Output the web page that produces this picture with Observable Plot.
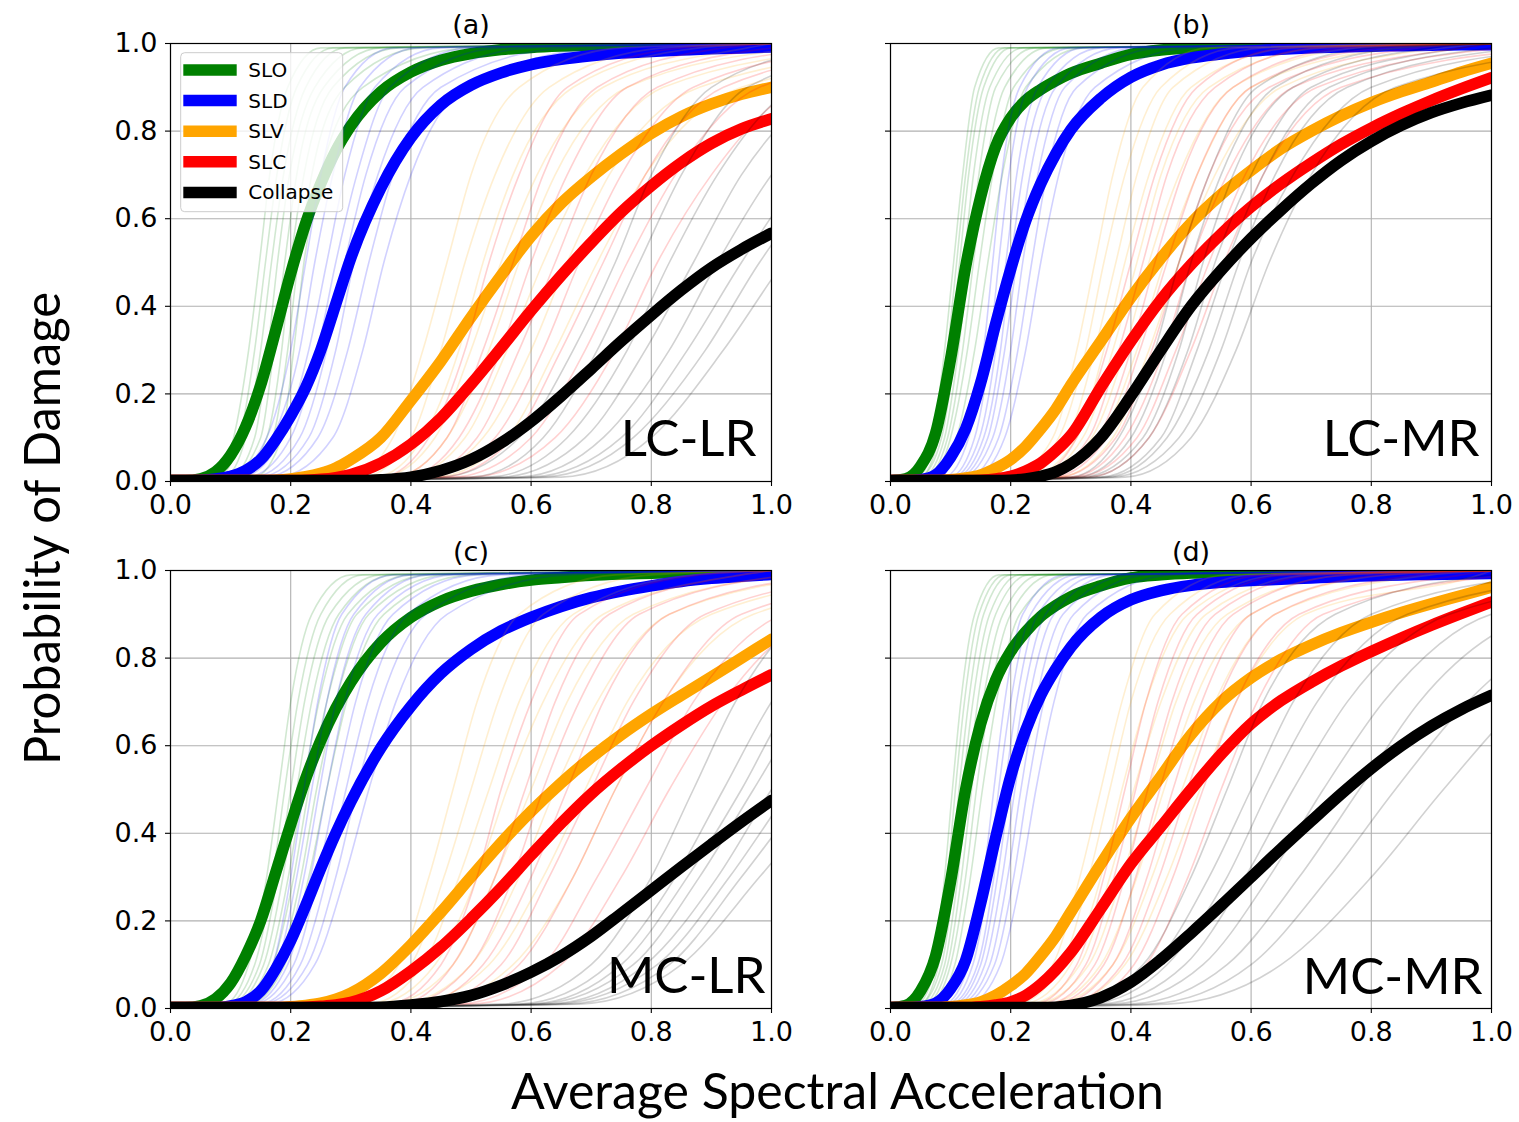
<!DOCTYPE html>
<html>
<head>
<meta charset="utf-8">
<script src="https://cdn.jsdelivr.net/npm/d3@7"></script>
<script src="https://cdn.jsdelivr.net/npm/@observablehq/plot@0.6"></script>
<style>
  html, body { margin: 0; padding: 0; background: #fff; }
  #fig { position: relative; width: 1519px; height: 1122px; overflow: hidden; background: #fff; }
  #fig svg { max-width: none; }
  .panel { position: absolute; }
  #overlay { position: absolute; left: 0; top: 0; pointer-events: none; }
</style>
</head>
<body>
<div id="fig"></div>
<script>
// ---------------- DATA ----------------
const states = ["SLO", "SLD", "SLV", "SLC", "Collapse"];
const stateColors = ["#008000", "#0000ff", "#ffa500", "#ff0000", "#000000"];
const panelTitles = ["(a)", "(b)", "(c)", "(d)"];
const typologies = ["LC-LR", "LC-MR", "MC-LR", "MC-MR"];
const xAxisLabel = "Average Spectral Acceleration";
const yAxisLabel = "Probability of Damage";
const xTicks = [0, 0.2, 0.4, 0.6, 0.8, 1.0];
const yTicks = [0, 0.2, 0.4, 0.6, 0.8, 1.0];

// x positions at which the thick (mean) curves were read
const xs = [0, 0.025, 0.05, 0.075, 0.1, 0.125, 0.15, 0.175, 0.2, 0.225, 0.25, 0.275, 0.3, 0.35, 0.4, 0.45, 0.5, 0.55, 0.6, 0.65, 0.7, 0.75, 0.8, 0.85, 0.9, 0.95, 1.0];

// (a) LC-LR thick curves
const a_SLO = [0.002, 0.002, 0.006, 0.022, 0.06, 0.125, 0.22, 0.345, 0.475, 0.59, 0.68, 0.755, 0.812, 0.89, 0.935, 0.962, 0.977, 0.986, 0.991, 0.994, 0.996, 0.997, 0.998, 0.998, 0.999, 0.999, 0.999];
const a_SLD = [0.002, 0.002, 0.003, 0.006, 0.012, 0.025, 0.05, 0.095, 0.15, 0.215, 0.3, 0.405, 0.51, 0.67, 0.785, 0.86, 0.905, 0.933, 0.952, 0.964, 0.972, 0.978, 0.982, 0.985, 0.988, 0.99, 0.992];
const a_SLV = [0.002, 0.002, 0.002, 0.002, 0.002, 0.002, 0.002, 0.003, 0.006, 0.011, 0.019, 0.031, 0.05, 0.1, 0.185, 0.275, 0.375, 0.47, 0.56, 0.635, 0.695, 0.748, 0.795, 0.833, 0.862, 0.884, 0.9];
const a_SLC = [0.002, 0.002, 0.002, 0.002, 0.002, 0.002, 0.002, 0.002, 0.002, 0.003, 0.005, 0.009, 0.016, 0.042, 0.085, 0.145, 0.222, 0.305, 0.39, 0.47, 0.545, 0.615, 0.675, 0.728, 0.772, 0.805, 0.828];
const a_COL = [0.002, 0.002, 0.002, 0.002, 0.002, 0.002, 0.002, 0.002, 0.002, 0.002, 0.002, 0.002, 0.002, 0.004, 0.01, 0.025, 0.05, 0.088, 0.137, 0.195, 0.257, 0.32, 0.38, 0.437, 0.488, 0.53, 0.567];

// (b) LC-MR thick curves
const b_SLO = [0.002, 0.006, 0.035, 0.11, 0.28, 0.49, 0.65, 0.765, 0.83, 0.87, 0.895, 0.915, 0.932, 0.955, 0.975, 0.985, 0.99, 0.993, 0.995, 0.996, 0.997, 0.998, 0.998, 0.999, 0.999, 0.999, 0.999];
const b_SLD = [0.002, 0.002, 0.004, 0.015, 0.055, 0.12, 0.225, 0.36, 0.485, 0.595, 0.68, 0.748, 0.803, 0.875, 0.923, 0.951, 0.967, 0.976, 0.983, 0.987, 0.99, 0.992, 0.994, 0.995, 0.996, 0.997, 0.997];
const b_SLV = [0.002, 0.002, 0.002, 0.002, 0.004, 0.008, 0.015, 0.03, 0.05, 0.08, 0.12, 0.165, 0.22, 0.32, 0.42, 0.51, 0.59, 0.655, 0.71, 0.76, 0.8, 0.835, 0.865, 0.89, 0.912, 0.935, 0.955];
const b_SLC = [0.002, 0.002, 0.002, 0.002, 0.002, 0.002, 0.003, 0.006, 0.012, 0.024, 0.042, 0.07, 0.105, 0.215, 0.32, 0.415, 0.495, 0.565, 0.627, 0.68, 0.727, 0.77, 0.807, 0.84, 0.87, 0.897, 0.922];
const b_COL = [0.002, 0.002, 0.002, 0.002, 0.002, 0.002, 0.002, 0.002, 0.003, 0.006, 0.012, 0.022, 0.04, 0.1, 0.195, 0.3, 0.4, 0.482, 0.555, 0.62, 0.68, 0.733, 0.777, 0.813, 0.842, 0.864, 0.882];

// (c) MC-LR thick curves
const c_SLO = [0.002, 0.002, 0.006, 0.022, 0.058, 0.12, 0.2, 0.31, 0.42, 0.525, 0.612, 0.685, 0.745, 0.835, 0.893, 0.93, 0.953, 0.968, 0.978, 0.984, 0.989, 0.992, 0.994, 0.996, 0.997, 0.998, 0.998];
const c_SLD = [0.002, 0.002, 0.002, 0.002, 0.006, 0.015, 0.04, 0.09, 0.155, 0.235, 0.32, 0.4, 0.472, 0.595, 0.69, 0.765, 0.82, 0.862, 0.893, 0.918, 0.938, 0.953, 0.965, 0.975, 0.982, 0.987, 0.991];
const c_SLV = [0.002, 0.002, 0.002, 0.002, 0.002, 0.002, 0.002, 0.002, 0.004, 0.007, 0.012, 0.021, 0.035, 0.08, 0.145, 0.22, 0.3, 0.378, 0.45, 0.515, 0.573, 0.625, 0.672, 0.715, 0.757, 0.8, 0.843];
const c_SLC = [0.002, 0.002, 0.002, 0.002, 0.002, 0.002, 0.002, 0.002, 0.002, 0.003, 0.005, 0.008, 0.014, 0.04, 0.085, 0.14, 0.205, 0.275, 0.35, 0.423, 0.49, 0.548, 0.6, 0.647, 0.69, 0.727, 0.762];
const c_COL = [0.002, 0.002, 0.002, 0.002, 0.002, 0.002, 0.002, 0.002, 0.002, 0.002, 0.002, 0.002, 0.002, 0.003, 0.008, 0.016, 0.03, 0.053, 0.083, 0.12, 0.165, 0.217, 0.27, 0.323, 0.375, 0.426, 0.475];

// (d) MC-MR thick curves
const d_SLO = [0.002, 0.007, 0.04, 0.12, 0.29, 0.5, 0.65, 0.75, 0.815, 0.86, 0.895, 0.92, 0.94, 0.965, 0.983, 0.99, 0.994, 0.996, 0.997, 0.998, 0.998, 0.999, 0.999, 0.999, 0.999, 0.999, 0.999];
const d_SLD = [0.002, 0.002, 0.004, 0.012, 0.045, 0.11, 0.24, 0.39, 0.53, 0.635, 0.715, 0.775, 0.825, 0.893, 0.933, 0.954, 0.966, 0.973, 0.977, 0.98, 0.983, 0.986, 0.988, 0.99, 0.991, 0.992, 0.993];
const d_SLV = [0.002, 0.002, 0.002, 0.002, 0.004, 0.008, 0.015, 0.03, 0.052, 0.08, 0.12, 0.165, 0.22, 0.33, 0.435, 0.53, 0.625, 0.7, 0.755, 0.797, 0.83, 0.858, 0.882, 0.904, 0.924, 0.943, 0.962];
const d_SLC = [0.002, 0.002, 0.002, 0.002, 0.002, 0.002, 0.004, 0.008, 0.015, 0.03, 0.055, 0.088, 0.128, 0.228, 0.33, 0.415, 0.5, 0.58, 0.65, 0.703, 0.745, 0.782, 0.815, 0.846, 0.875, 0.902, 0.928];
const d_COL = [0.002, 0.002, 0.002, 0.002, 0.002, 0.002, 0.002, 0.002, 0.002, 0.002, 0.002, 0.003, 0.007, 0.025, 0.06, 0.112, 0.172, 0.235, 0.3, 0.365, 0.428, 0.49, 0.548, 0.6, 0.645, 0.683, 0.715];

// Thin (individual building) curves: x at which each reaches these probabilities
const probLevels = [0.01, 0.1, 0.3, 0.5, 0.7, 0.9, 0.99];

const a_SLO_thin = [[0.075,0.105,0.13,0.148,0.165,0.195,0.25],[0.08,0.115,0.14,0.158,0.177,0.21,0.27],[0.09,0.125,0.15,0.168,0.188,0.225,0.29],[0.1,0.14,0.162,0.178,0.198,0.24,0.32],[0.1,0.15,0.172,0.19,0.21,0.255,0.35],[0.11,0.16,0.185,0.2,0.222,0.27,0.38],[0.12,0.17,0.195,0.212,0.235,0.29,0.42],[0.14,0.185,0.205,0.222,0.25,0.32,0.5]];
const a_SLD_thin = [[0.1,0.16,0.2,0.225,0.25,0.29,0.37],[0.11,0.17,0.215,0.24,0.27,0.315,0.41],[0.12,0.185,0.23,0.26,0.29,0.34,0.45],[0.13,0.2,0.245,0.275,0.31,0.365,0.5],[0.14,0.215,0.26,0.29,0.325,0.39,0.55],[0.15,0.23,0.275,0.305,0.345,0.42,0.6],[0.16,0.245,0.295,0.33,0.37,0.45,0.66],[0.18,0.27,0.32,0.355,0.4,0.49,0.72]];
const a_SLV_thin = [[0.3,0.37,0.42,0.46,0.5,0.58,0.75],[0.32,0.4,0.45,0.49,0.54,0.63,0.82],[0.34,0.42,0.48,0.52,0.57,0.67,0.88],[0.35,0.44,0.5,0.55,0.61,0.72,0.96],[0.37,0.46,0.53,0.58,0.64,0.76,1.05],[0.39,0.49,0.56,0.62,0.69,0.82,1.15],[0.41,0.52,0.6,0.66,0.73,0.88,1.25],[0.44,0.56,0.64,0.71,0.79,0.95,1.35]];
const a_SLC_thin = [[0.35,0.43,0.49,0.53,0.58,0.66,0.85],[0.37,0.46,0.52,0.57,0.62,0.71,0.92],[0.39,0.48,0.55,0.6,0.66,0.76,1.0],[0.41,0.51,0.58,0.64,0.7,0.81,1.08],[0.43,0.54,0.62,0.68,0.75,0.87,1.15],[0.45,0.57,0.65,0.72,0.79,0.92,1.22],[0.47,0.6,0.69,0.76,0.84,0.98,1.3],[0.5,0.64,0.74,0.81,0.9,1.05,1.4]];
const a_COL_thin = [[0.45,0.58,0.67,0.74,0.8,0.9,1.1],[0.5,0.62,0.71,0.78,0.85,0.96,1.2],[0.53,0.66,0.76,0.83,0.91,1.04,1.3],[0.55,0.69,0.79,0.87,0.95,1.1,1.4],[0.58,0.72,0.83,0.91,1.0,1.16,1.5],[0.6,0.75,0.86,0.95,1.05,1.22,1.6],[0.62,0.77,0.89,0.98,1.09,1.28,1.7],[0.65,0.8,0.92,1.02,1.14,1.35,1.8]];

const b_SLO_thin = [[0.04,0.07,0.09,0.105,0.12,0.14,0.18],[0.045,0.075,0.095,0.11,0.125,0.148,0.19],[0.05,0.08,0.1,0.115,0.13,0.155,0.2],[0.05,0.085,0.107,0.122,0.138,0.165,0.22],[0.055,0.09,0.113,0.13,0.147,0.175,0.24],[0.06,0.095,0.12,0.138,0.157,0.19,0.26],[0.065,0.1,0.128,0.148,0.17,0.205,0.29],[0.07,0.11,0.14,0.162,0.186,0.225,0.32]];
const b_SLD_thin = [[0.09,0.13,0.155,0.17,0.185,0.215,0.28],[0.1,0.14,0.165,0.18,0.197,0.228,0.3],[0.105,0.148,0.175,0.192,0.21,0.245,0.32],[0.11,0.155,0.183,0.2,0.22,0.26,0.35],[0.115,0.162,0.19,0.21,0.232,0.275,0.38],[0.12,0.17,0.2,0.22,0.245,0.29,0.41],[0.13,0.18,0.212,0.235,0.26,0.31,0.45],[0.14,0.19,0.225,0.25,0.28,0.34,0.5]];
const b_SLV_thin = [[0.2,0.27,0.31,0.34,0.37,0.42,0.53],[0.21,0.28,0.325,0.355,0.39,0.45,0.58],[0.22,0.295,0.34,0.375,0.41,0.47,0.62],[0.23,0.31,0.355,0.39,0.43,0.5,0.67],[0.24,0.32,0.37,0.41,0.45,0.53,0.72],[0.25,0.335,0.39,0.43,0.48,0.57,0.78],[0.26,0.35,0.41,0.455,0.51,0.6,0.85],[0.28,0.37,0.43,0.48,0.54,0.65,0.92]];
const b_SLC_thin = [[0.24,0.31,0.36,0.4,0.44,0.51,0.66],[0.25,0.33,0.38,0.42,0.46,0.54,0.71],[0.26,0.345,0.4,0.44,0.485,0.57,0.76],[0.27,0.36,0.415,0.46,0.51,0.6,0.82],[0.28,0.375,0.435,0.48,0.53,0.63,0.88],[0.3,0.39,0.455,0.5,0.56,0.67,0.95],[0.31,0.41,0.475,0.53,0.59,0.71,1.02],[0.33,0.43,0.5,0.555,0.62,0.75,1.1]];
const b_COL_thin = [[0.3,0.38,0.44,0.48,0.53,0.61,0.8],[0.31,0.4,0.46,0.5,0.55,0.64,0.85],[0.32,0.42,0.48,0.52,0.57,0.67,0.9],[0.33,0.43,0.495,0.54,0.6,0.7,0.95],[0.35,0.45,0.51,0.56,0.62,0.73,1.0],[0.36,0.46,0.53,0.58,0.64,0.76,1.05],[0.37,0.48,0.55,0.6,0.67,0.8,1.12],[0.39,0.5,0.575,0.63,0.7,0.84,1.2]];

const c_SLO_thin = [[0.09,0.13,0.16,0.18,0.2,0.235,0.3],[0.095,0.14,0.17,0.19,0.212,0.25,0.32],[0.1,0.148,0.178,0.2,0.223,0.265,0.35],[0.105,0.155,0.187,0.21,0.235,0.28,0.37],[0.11,0.163,0.196,0.22,0.247,0.295,0.4],[0.115,0.17,0.205,0.23,0.26,0.31,0.43],[0.12,0.18,0.217,0.243,0.275,0.33,0.46],[0.13,0.19,0.23,0.26,0.293,0.355,0.5]];
const c_SLD_thin = [[0.12,0.17,0.2,0.222,0.245,0.285,0.37],[0.125,0.178,0.21,0.235,0.26,0.305,0.4],[0.13,0.186,0.222,0.248,0.275,0.325,0.43],[0.135,0.195,0.233,0.26,0.29,0.345,0.47],[0.14,0.205,0.245,0.275,0.308,0.37,0.51],[0.15,0.216,0.26,0.292,0.328,0.395,0.55],[0.155,0.228,0.275,0.31,0.35,0.425,0.6],[0.165,0.24,0.29,0.33,0.375,0.46,0.66]];
const c_SLV_thin = [[0.3,0.38,0.43,0.47,0.51,0.58,0.74],[0.31,0.4,0.455,0.5,0.545,0.62,0.8],[0.33,0.42,0.48,0.53,0.58,0.67,0.87],[0.34,0.44,0.51,0.56,0.62,0.72,0.95],[0.36,0.47,0.54,0.6,0.66,0.77,1.03],[0.38,0.5,0.58,0.64,0.71,0.83,1.12],[0.4,0.53,0.62,0.69,0.76,0.9,1.22],[0.43,0.57,0.67,0.74,0.82,0.97,1.32]];
const c_SLC_thin = [[0.36,0.45,0.51,0.55,0.6,0.68,0.88],[0.38,0.47,0.54,0.59,0.64,0.73,0.95],[0.39,0.5,0.57,0.62,0.68,0.78,1.03],[0.41,0.52,0.6,0.66,0.72,0.83,1.1],[0.43,0.55,0.63,0.7,0.77,0.89,1.18],[0.45,0.58,0.67,0.74,0.82,0.95,1.27],[0.48,0.62,0.71,0.79,0.87,1.02,1.36],[0.5,0.65,0.75,0.83,0.92,1.08,1.45]];
const c_COL_thin = [[0.55,0.7,0.8,0.87,0.94,1.06,1.3],[0.58,0.73,0.84,0.92,1.0,1.13,1.4],[0.6,0.75,0.86,0.95,1.03,1.17,1.45],[0.61,0.77,0.88,0.97,1.06,1.21,1.5],[0.63,0.79,0.91,1.0,1.1,1.26,1.6],[0.64,0.81,0.93,1.03,1.13,1.3,1.65],[0.66,0.83,0.95,1.06,1.17,1.35,1.75],[0.68,0.85,0.98,1.1,1.22,1.42,1.85]];

const d_SLO_thin = [[0.04,0.07,0.09,0.103,0.117,0.14,0.18],[0.045,0.075,0.095,0.108,0.123,0.147,0.19],[0.05,0.08,0.1,0.114,0.13,0.155,0.2],[0.05,0.085,0.106,0.12,0.137,0.165,0.215],[0.055,0.09,0.112,0.128,0.145,0.175,0.23],[0.06,0.095,0.118,0.135,0.154,0.187,0.25],[0.065,0.1,0.125,0.143,0.164,0.2,0.27],[0.07,0.107,0.133,0.153,0.176,0.215,0.3]];
const d_SLD_thin = [[0.09,0.13,0.155,0.172,0.19,0.22,0.29],[0.095,0.137,0.163,0.18,0.2,0.233,0.31],[0.1,0.145,0.172,0.19,0.21,0.245,0.33],[0.105,0.15,0.178,0.198,0.22,0.258,0.35],[0.11,0.157,0.186,0.207,0.23,0.272,0.37],[0.115,0.165,0.195,0.217,0.242,0.287,0.4],[0.12,0.173,0.205,0.228,0.255,0.305,0.43],[0.13,0.183,0.217,0.242,0.272,0.327,0.47]];
const d_SLV_thin = [[0.2,0.27,0.315,0.35,0.385,0.44,0.56],[0.21,0.285,0.33,0.365,0.4,0.465,0.6],[0.22,0.3,0.35,0.385,0.425,0.495,0.65],[0.23,0.315,0.365,0.405,0.45,0.525,0.7],[0.24,0.33,0.385,0.43,0.475,0.56,0.76],[0.26,0.35,0.41,0.455,0.505,0.6,0.83],[0.27,0.37,0.435,0.485,0.54,0.64,0.9],[0.29,0.39,0.46,0.515,0.575,0.69,0.98]];
const d_SLC_thin = [[0.24,0.31,0.355,0.39,0.425,0.485,0.62],[0.25,0.325,0.372,0.408,0.445,0.51,0.66],[0.26,0.34,0.39,0.428,0.468,0.54,0.71],[0.27,0.355,0.408,0.448,0.492,0.57,0.76],[0.28,0.37,0.427,0.47,0.518,0.6,0.82],[0.29,0.385,0.447,0.494,0.545,0.64,0.88],[0.31,0.405,0.47,0.52,0.575,0.68,0.95],[0.32,0.425,0.495,0.55,0.61,0.72,1.03]];
const d_COL_thin = [[0.3,0.42,0.5,0.56,0.62,0.74,1.0],[0.32,0.44,0.53,0.6,0.67,0.8,1.1],[0.33,0.46,0.56,0.63,0.71,0.86,1.2],[0.35,0.49,0.59,0.67,0.76,0.93,1.3],[0.37,0.52,0.63,0.72,0.82,1.0,1.42],[0.4,0.56,0.68,0.78,0.88,1.08,1.55],[0.43,0.6,0.73,0.84,0.96,1.18,1.7],[0.46,0.65,0.8,0.92,1.05,1.3,1.9]];

// ---------------- LAYOUT ----------------
const thickByPanel = [
  [a_SLO, a_SLD, a_SLV, a_SLC, a_COL],
  [b_SLO, b_SLD, b_SLV, b_SLC, b_COL],
  [c_SLO, c_SLD, c_SLV, c_SLC, c_COL],
  [d_SLO, d_SLD, d_SLV, d_SLC, d_COL]
];
const thinByPanel = [
  [a_SLO_thin, a_SLD_thin, a_SLV_thin, a_SLC_thin, a_COL_thin],
  [b_SLO_thin, b_SLD_thin, b_SLV_thin, b_SLC_thin, b_COL_thin],
  [c_SLO_thin, c_SLD_thin, c_SLV_thin, c_SLC_thin, c_COL_thin],
  [d_SLO_thin, d_SLD_thin, d_SLV_thin, d_SLC_thin, d_COL_thin]
];
const layout = [
  {left: 170, top: 43,  yLabels: true,  labelDx: -15, labelDy: -26, labelWidth: 137},
  {left: 890, top: 43,  yLabels: false, labelDx: -12, labelDy: -26, labelWidth: 152},
  {left: 170, top: 570, yLabels: true,  labelDx: -6,  labelDy: -16, labelWidth: 153},
  {left: 890, top: 570, yLabels: false, labelDx: -9,  labelDy: -15, labelWidth: 167}
];
const W = 601, H = 438, mL = 70, mR = 35, mT = 45, mB = 45;
const THICK = 11.5;

const fig = document.getElementById("fig");

function makePanel(pi) {
  const L = layout[pi];
  const thickRows = [];
  thickByPanel[pi].forEach((ys, si) => ys.forEach((y, i) => thickRows.push({s: si, x: xs[i], y})));
  const thinRows = [];
  thinByPanel[pi].forEach((curves, si) => curves.forEach((c, ci) => {
    thinRows.push({s: si, c: ci, x: 0, y: 0});
    c.forEach((x, li) => thinRows.push({s: si, c: ci, x, y: probLevels[li]}));
    if (c[c.length - 1] < 1) thinRows.push({s: si, c: ci, x: 1, y: 0.9995});
  }));

  const marks = [
    Plot.gridX(xTicks, {stroke: "#b0b0b0", strokeOpacity: 1, strokeWidth: 1.1}),
    Plot.gridY(yTicks, {stroke: "#b0b0b0", strokeOpacity: 1, strokeWidth: 1.1})
  ];
  states.forEach((st, si) => {
    marks.push(Plot.line(thinRows.filter(d => d.s === si), {
      x: "x", y: "y", z: "c", stroke: stateColors[si], strokeOpacity: 0.18,
      strokeWidth: 1.6, curve: "monotone-x", clip: true
    }));
    marks.push(Plot.line(thickRows.filter(d => d.s === si), {
      x: "x", y: "y", stroke: stateColors[si], strokeWidth: THICK,
      curve: "monotone-x", clip: true, strokeLinejoin: "round"
    }));
  });
  marks.push(
    Plot.text([typologies[pi]], {
      text: d => d, frameAnchor: "bottom-right", textAnchor: "end", lineAnchor: "bottom",
      dx: L.labelDx, dy: L.labelDy, fontSize: 51, fontFamily: "Lato", fill: "black",
      ariaLabel: "typology"
    }),
    Plot.text([panelTitles[pi]], {
      text: d => d, frameAnchor: "top", lineAnchor: "bottom", dy: -9.5,
      fontSize: 27, fontFamily: "DejaVu Sans", fill: "black"
    }),
    Plot.axisX(xTicks, {
      tickFormat: d3.format(".1f"), tickSize: 5, tickPadding: 8, label: null,
      fontSize: 27, strokeWidth: 1.1
    }),
    Plot.axisY(yTicks, {
      tickFormat: L.yLabels ? d3.format(".1f") : () => "", tickSize: 5, tickPadding: 8,
      label: null, fontSize: 27, strokeWidth: 1.1
    }),
    Plot.frame({stroke: "black", strokeWidth: 1.2})
  );

  const svg = Plot.plot({
    width: W + mL + mR, height: H + mT + mB,
    marginLeft: mL, marginRight: mR, marginTop: mT, marginBottom: mB,
    x: {domain: [0, 1]}, y: {domain: [0, 1]},
    style: {fontFamily: "DejaVu Sans", fontSize: "27px", color: "black", background: "transparent", overflow: "visible"},
    marks
  });
  svg.querySelectorAll('g[aria-label="typology"] text').forEach(t => {
    t.setAttribute("textLength", L.labelWidth);
    t.setAttribute("lengthAdjust", "spacingAndGlyphs");
  });
  const div = document.createElement("div");
  div.className = "panel";
  div.style.left = (L.left - mL) + "px";
  div.style.top = (L.top - mT) + "px";
  div.appendChild(svg);
  fig.appendChild(div);
}

[0, 1, 2, 3].forEach(makePanel);

// ---------------- OVERLAY: axis labels + legend ----------------
const ov = d3.select(fig).append("svg").attr("id", "overlay").attr("width", 1519).attr("height", 1122);
ov.append("text")
  .attr("x", 837.5).attr("y", 1109).attr("text-anchor", "middle")
  .attr("font-family", "Lato").attr("font-size", 51)
  .attr("textLength", 653).attr("lengthAdjust", "spacingAndGlyphs")
  .text(xAxisLabel);
ov.append("text")
  .attr("transform", "translate(60,528.5) rotate(-90)").attr("text-anchor", "middle")
  .attr("font-family", "Lato").attr("font-size", 51)
  .attr("textLength", 473).attr("lengthAdjust", "spacingAndGlyphs")
  .text(yAxisLabel);

const lg = ov.append("g");
lg.append("rect")
  .attr("x", 180.7).attr("y", 52.7).attr("width", 162).attr("height", 159).attr("rx", 4)
  .attr("fill", "white").attr("fill-opacity", 0.8).attr("stroke", "#cccccc").attr("stroke-width", 1);
states.forEach((s, i) => {
  const cy = 70 + 30.6 * i;
  lg.append("line").attr("x1", 183.3).attr("x2", 236.7).attr("y1", cy).attr("y2", cy)
    .attr("stroke", stateColors[i]).attr("stroke-width", THICK);
  lg.append("text").attr("x", 248.3).attr("y", cy + 7)
    .attr("font-family", "DejaVu Sans").attr("font-size", 20).attr("fill", "black").text(s);
});
</script>
</body>
</html>
